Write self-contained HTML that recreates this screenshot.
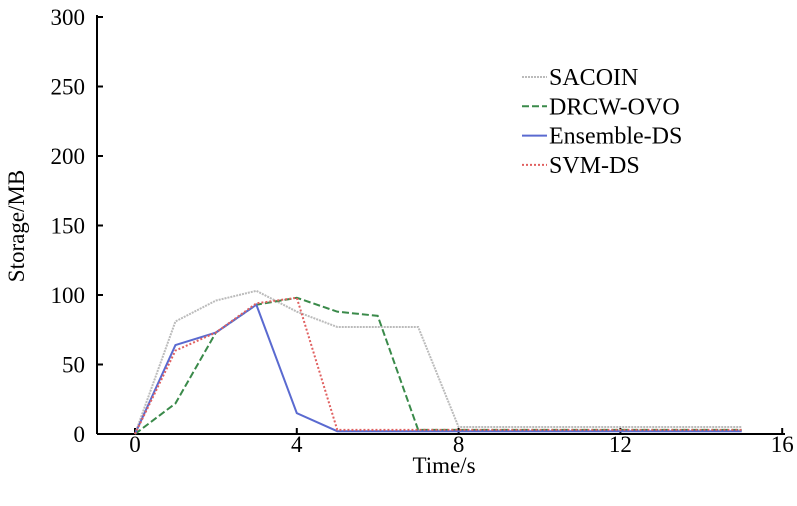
<!DOCTYPE html>
<html><head><meta charset="utf-8"><style>
body{margin:0;background:#fff;}
svg{display:block;font-family:"Liberation Serif",serif;}
</style></head><body>
<svg id="chart" width="797" height="506" viewBox="0 0 797 506">
<g id="axes"></g><g id="series"></g><g id="legend"></g>
</svg>
<script>
const times = [0,1,2,3,4,5,6,7,8,9,10,11,12,13,14,15];
const sacoin = [0,81,96,103,88,77,77,77,5,5,5,5,5,5,5,5];
const drcwOvo = [0,22,73,93,98,88,85,3,3,3,3,3,3,3,3,3];
const ensembleDs = [0,64,73,93,15,2,2,2,2,2,2,2,2,2,2,2];
const svmDs = [0,60,73,94,98,3,3,3,3,3,3,3,3,3,3,3];
const xTicks = [0,4,8,12,16];
const yTicks = [0,50,100,150,200,250,300];
const seriesNames = ["SACOIN","DRCW-OVO","Ensemble-DS","SVM-DS"];

const NS="http://www.w3.org/2000/svg";
const X0=135, XS=40.45, Y0=434, YS=1.39, AX=97;
const xs=v=>X0+v*XS, ys=v=>Y0-v*YS;
function mk(t,a,p){const e=document.createElementNS(NS,t);for(const k in a)e.setAttribute(k,a[k]);p.appendChild(e);return e;}
const axes=document.getElementById('axes');
let e=mk('line',{x1:AX,y1:Y0,x2:785,y2:Y0,stroke:'#000','stroke-width':2},axes);


e=mk('line',{x1:AX,y1:15,x2:AX,y2:Y0,stroke:'#000','stroke-width':2},axes);


xTicks.forEach(t=>{
  mk('line',{x1:xs(t),y1:Y0,x2:xs(t),y2:Y0-6,stroke:'#000','stroke-width':2},axes);
  const l=mk('text',{x:xs(t),y:Y0+18,'text-anchor':'middle','font-size':23},axes);
  l.textContent=t;
  
  
});
yTicks.forEach(t=>{
  mk('line',{x1:AX,y1:ys(t),x2:AX+6,y2:ys(t),stroke:'#000','stroke-width':2},axes);
  const l=mk('text',{x:AX-12,y:ys(t)+8,'text-anchor':'end','font-size':23},axes);
  l.textContent=t;
  
  
});
let tt=mk('text',{x:444,y:473,'text-anchor':'middle','font-size':23},axes);
tt.textContent='Time/s';


tt=mk('text',{x:0,y:0,'text-anchor':'middle','font-size':23,transform:'translate(24,226) rotate(-90)'},axes);
tt.textContent='Storage/MB';



const styles=[
 {d:sacoin,c:'#bbbbbb',w:2,dash:'2,1'},
 {d:drcwOvo,c:'#3a8a4a',w:2,dash:'7,3'},
 {d:ensembleDs,c:'#5a6ad0',w:2,dash:''},
 {d:svmDs,c:'#e06060',w:2,dash:'2,2'}];
const sg=document.getElementById('series'), lg=document.getElementById('legend');
styles.forEach((s,i)=>{
  const pts=times.map((t,j)=>xs(t)+','+ys(s.d[j])).join(' ');
  const p=mk('polyline',{points:pts,fill:'none',stroke:s.c,'stroke-width':s.w,'stroke-dasharray':s.dash},sg);
  
  
  const y=77+i*29.3;
  const g=mk('g',{},lg);
  
  
  mk('line',{x1:522,y1:y,x2:547,y2:y,stroke:s.c,'stroke-width':2,'stroke-dasharray':s.dash},g);
  const t=mk('text',{x:549,y:y+8,'font-size':24},g);
  t.textContent=seriesNames[i];
});
</script>
</body></html>
